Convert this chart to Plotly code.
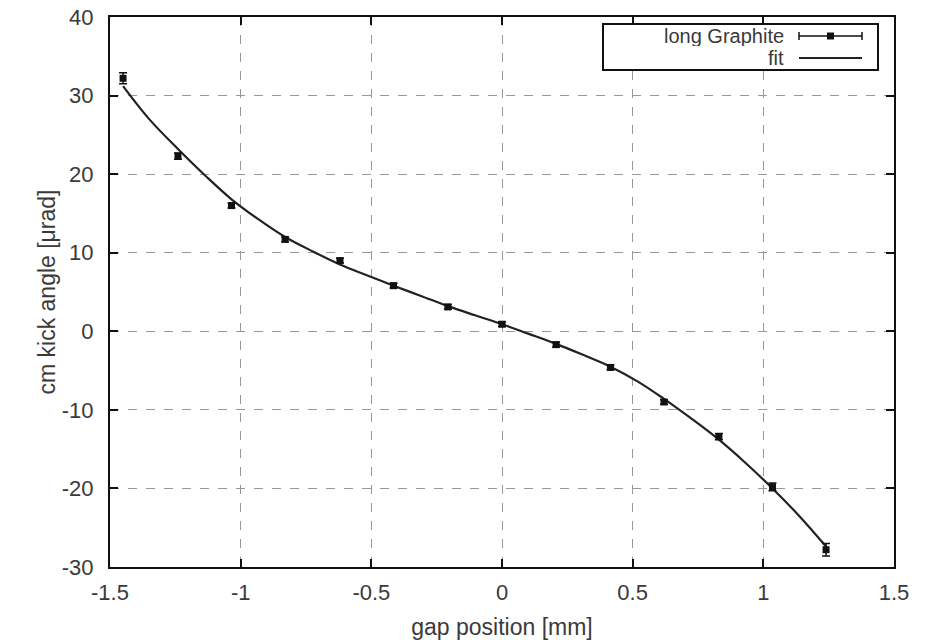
import plotly.graph_objects as go

# Measured data
gap_pos = [-1.45, -1.24, -1.035, -0.83, -0.62, -0.415, -0.207, 0.0, 0.207, 0.415, 0.62, 0.83, 1.035, 1.24]
kick = [32.2, 22.3, 16.0, 11.7, 9.0, 5.8, 3.1, 0.9, -1.7, -4.6, -9.0, -13.4, -19.8, -27.8]
kick_err = [0.7, 0.4, 0.3, 0.3, 0.3, 0.3, 0.3, 0.3, 0.3, 0.3, 0.3, 0.4, 0.5, 0.8]

# Fit curve
fit_x = [-1.45, -1.35, -1.24, -1.135, -1.035, -0.93, -0.83, -0.72, -0.62, -0.515, -0.415, -0.31, -0.207, -0.10, 0.0,
         0.10, 0.207, 0.31, 0.415, 0.52, 0.62, 0.72, 0.83, 0.93, 1.035, 1.14, 1.24]
fit_y = [31.2, 27.0, 23.2, 19.8, 16.8, 14.2, 12.0, 10.1, 8.5, 7.1, 5.8, 4.5, 3.2, 2.0, 0.9,
         -0.3, -1.6, -3.0, -4.5, -6.4, -8.6, -11.0, -13.8, -16.7, -20.0, -23.6, -27.4]

x_ticks = [-1.5, -1, -0.5, 0, 0.5, 1, 1.5]
x_tick_text = ["-1.5", "-1", "-0.5", "0", "0.5", "1", "1.5"]
y_ticks = [-30, -20, -10, 0, 10, 20, 30, 40]
y_tick_text = ["-30", "-20", "-10", "0", "10", "20", "30", "40"]

fig = go.Figure()
fig.add_trace(go.Scatter(
    x=fit_x, y=fit_y, mode="lines", name="fit",
    line=dict(color="#222", width=2.2, shape="spline", smoothing=1.0),
    showlegend=False,
))
fig.add_trace(go.Scatter(
    x=gap_pos, y=kick, mode="markers", name="long Graphite",
    marker=dict(symbol="square", size=7, color="#111"),
    error_y=dict(type="data", array=kick_err, color="#111", thickness=1.5, width=4),
    showlegend=False,
))

font_family = "Liberation Sans, Arial, sans-serif"
txt_color = "#3a3a3a"
axis_common = dict(
    showline=True, linecolor="#111", linewidth=2, mirror="ticks",
    ticks="inside", ticklen=8, tickcolor="#111", tickwidth=1.5,
    showgrid=True, gridcolor="#999", griddash="dash", gridwidth=1,
    zeroline=False, automargin=False,
    tickfont=dict(size=22, color=txt_color, family=font_family),
)
fig.update_layout(
    width=927, height=640,
    margin=dict(l=110, r=33, t=17, b=73),
    plot_bgcolor="white", paper_bgcolor="white",
    font=dict(family=font_family, color=txt_color),
    xaxis=dict(range=[-1.5, 1.5], tickvals=x_ticks, ticktext=x_tick_text,
               ticklabelstandoff=5,
               title=dict(text="gap position [mm]", font=dict(size=23, color=txt_color), standoff=14),
               **axis_common),
    yaxis=dict(range=[-30, 40], tickvals=y_ticks, ticktext=y_tick_text, ticklabelstandoff=10,
               title=dict(text="cm kick angle [μrad]", font=dict(size=23, color=txt_color), standoff=0),
               **axis_common),
)

# Custom gnuplot-style legend (text right-aligned, sample to the right)
W, H = 784, 550
fig.add_shape(type="rect", xref="paper", yref="paper",
              x0=(603 - 110) / W, x1=(878 - 110) / W,
              y0=(567 - 70) / H, y1=(567 - 24) / H,
              line=dict(color="#111", width=2), fillcolor="white", layer="above")
leg_items = [("long Graphite", 36), ("fit", 58)]
for txt, ypx in leg_items:
    fig.add_annotation(xref="paper", yref="paper",
                       x=(785 - 110) / W, y=(567 - ypx) / H,
                       text=txt, showarrow=False, xanchor="right", yanchor="middle",
                       borderpad=0, height=20, valign="middle",
                       font=dict(size=20, color=txt_color, family=font_family))
# sample lines
y1 = (567 - 36) / H
y2 = (567 - 58) / H
x_a = (799 - 110) / W
x_b = (862 - 110) / W
fig.add_shape(type="line", xref="paper", yref="paper", x0=x_a, x1=x_b, y0=y1, y1=y1,
              line=dict(color="#111", width=1.5), layer="above")
for xe in (x_a, x_b):
    fig.add_shape(type="line", xref="paper", yref="paper", x0=xe, x1=xe,
                  y0=y1 - 4 / H, y1=y1 + 4 / H, line=dict(color="#111", width=1.5), layer="above")
xm = (x_a + x_b) / 2
fig.add_shape(type="rect", xref="paper", yref="paper",
              x0=xm - 3.5 / W, x1=xm + 3.5 / W, y0=y1 - 3.5 / H, y1=y1 + 3.5 / H,
              line=dict(color="#111", width=0), fillcolor="#111", layer="above")
fig.add_shape(type="line", xref="paper", yref="paper", x0=x_a, x1=x_b, y0=y2, y1=y2,
              line=dict(color="#222", width=2.2), layer="above")

fig.write_html("out.html")
